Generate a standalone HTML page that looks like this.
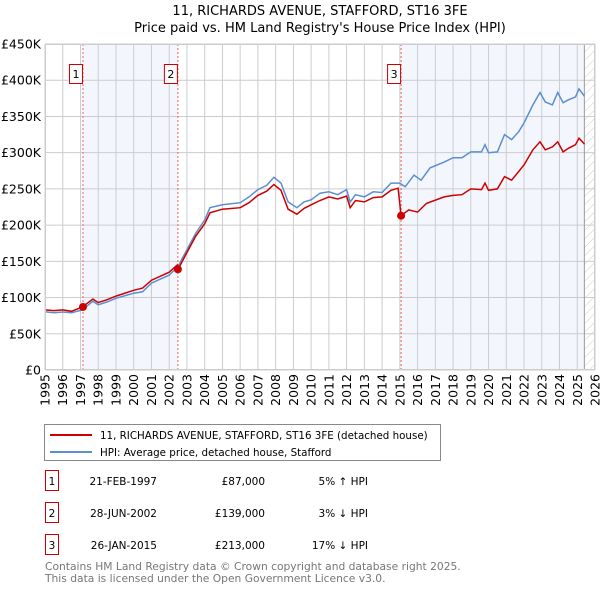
<!DOCTYPE html>
<html><head><meta charset="utf-8"><style>
body{margin:0;background:#fff;}
svg{display:block;font-family:"DejaVu Sans","Liberation Sans",sans-serif;}
</style></head><body>
<svg id="chart" width="600" height="590" viewBox="0 0 600 590">
<defs><pattern id="hatch" width="6" height="6" patternUnits="userSpaceOnUse" patternTransform="rotate(45)"><line x1="0" y1="0" x2="0" y2="6" stroke="#ccc" stroke-width="1"/></pattern></defs>
<text x="320" y="15" text-anchor="middle" font-size="13">11, RICHARDS AVENUE, STAFFORD, ST16 3FE</text>
<text x="320" y="32" text-anchor="middle" font-size="13">Price paid vs. HM Land Registry's House Price Index (HPI)</text>
<g id="plot"></g>
<g>
<rect x="44.5" y="424.5" width="396" height="36" fill="#fff" stroke="#888"/>
<line x1="50" y1="435" x2="92" y2="435" stroke="#cc0000" stroke-width="2"/>
<text x="100" y="439" font-size="10.3">11, RICHARDS AVENUE, STAFFORD, ST16 3FE (detached house)</text>
<line x1="50" y1="452" x2="92" y2="452" stroke="#5b8fd0" stroke-width="2"/>
<text x="100" y="456" font-size="10.3">HPI: Average price, detached house, Stafford</text>
</g>
<g id="table" font-size="10.5"></g>
<text x="45" y="570" font-size="10.7" fill="#777">Contains HM Land Registry data © Crown copyright and database right 2025.</text>
<text x="45" y="582" font-size="10.7" fill="#777">This data is licensed under the Open Government Licence v3.0.</text>
</svg>
<script>
const yTicks=[0,50000,100000,150000,200000,250000,300000,350000,400000,450000];
const yTickLabels=["£0","£50K","£100K","£150K","£200K","£250K","£300K","£350K","£400K","£450K"];
const years=[1995,1996,1997,1998,1999,2000,2001,2002,2003,2004,2005,2006,2007,2008,2009,2010,2011,2012,2013,2014,2015,2016,2017,2018,2019,2020,2021,2022,2023,2024,2025,2026];
const hpiT=[1995,1995.5,1996,1996.5,1997.1,1997.7,1998,1998.5,1999,2000,2000.5,2001,2002,2002.5,2003,2003.5,2004,2004.3,2005,2006,2006.5,2007,2007.5,2007.9,2008.3,2008.7,2009.2,2009.6,2010,2010.5,2011,2011.5,2012,2012.2,2012.5,2013,2013.5,2014,2014.5,2015,2015.3,2015.8,2016.2,2016.7,2017.5,2018,2018.5,2019,2019.6,2019.8,2020,2020.5,2020.9,2021.3,2021.7,2022,2022.5,2022.9,2023.2,2023.6,2023.9,2024.2,2024.5,2024.9,2025.1,2025.4];
const hpiV=[80500,79000,80000,79000,83000,95000,90000,94000,99000,106000,108000,120000,131000,143000,166000,189000,207000,224000,228000,231000,239000,249000,255000,266000,258000,232000,224000,232000,235000,244000,246000,242000,249000,232000,242000,239000,246000,245000,258000,258000,253000,269000,262000,279000,287000,293000,293000,301000,301000,311000,300000,301000,325000,318000,329000,341000,366000,383000,370000,366000,383000,369000,373000,377000,388000,378000];
const ppT=[1995,1995.5,1996,1996.5,1997.1,1997.7,1998,1998.5,1999,2000,2000.5,2001,2002,2002.45,2002.5,2003,2003.5,2004,2004.3,2005,2006,2006.5,2007,2007.5,2007.9,2008.3,2008.7,2009.2,2009.6,2010,2010.5,2011,2011.5,2012,2012.2,2012.5,2013,2013.5,2014,2014.5,2014.9,2015.07,2015.5,2016,2016.5,2017.5,2018,2018.5,2019,2019.6,2019.8,2020,2020.5,2020.9,2021.3,2021.7,2022,2022.5,2022.9,2023.2,2023.6,2023.9,2024.2,2024.5,2024.9,2025.1,2025.4];
const ppV=[83000,82000,83000,81000,87000,98000,93000,97000,102000,110000,113000,124000,135000,145000,139000,162000,185000,202000,217000,222000,224000,231000,241000,247000,256000,248000,222000,215000,223000,228000,234000,239000,236000,240000,224000,234000,232000,238000,239000,248000,251000,213000,221000,218000,230000,239000,241000,242000,250000,249000,258000,248000,250000,267000,262000,274000,283000,304000,315000,304000,308000,315000,301000,306000,311000,320000,312000];
const saleT=[1997.14,2002.49,2015.07];
const saleV=[87000,139000,213000];
const saleLabels=["1","2","3"];
const saleDates=["21-FEB-1997","28-JUN-2002","26-JAN-2015"];
const salePrices=["£87,000","£139,000","£213,000"];
const saleHpi=["5% ↑ HPI","3% ↓ HPI","17% ↓ HPI"];

const NS="http://www.w3.org/2000/svg";
const L=45,R=595,T=44,B=370,X0=1995,X1=2026,YMAX=450000;
const xs=v=>L+(v-X0)/(X1-X0)*(R-L);
const ys=v=>B-v/YMAX*(B-T);
function mk(tag,attrs,parent,text){const e=document.createElementNS(NS,tag);for(const k in attrs)e.setAttribute(k,attrs[k]);if(text!==undefined)e.textContent=text;parent.appendChild(e);return e;}
const g=document.getElementById('plot');
const s1=mk('rect',{x:xs(saleT[0]),y:T,width:xs(saleT[1])-xs(saleT[0]),height:B-T,fill:'#eef3fc',opacity:0.7},g);


const lastT=hpiT[hpiT.length-1];
const s2=mk('rect',{x:xs(saleT[2]),y:T,width:xs(lastT)-xs(saleT[2]),height:B-T,fill:'#eef3fc',opacity:0.7},g);


const hz=mk('rect',{x:xs(lastT),y:T,width:R-xs(lastT),height:B-T,fill:'url(#hatch)'},g);


years.forEach(y=>{const l=mk('line',{x1:xs(y),x2:xs(y),y1:T,y2:B,stroke:'#ccc'},g);


const t=mk('text',{x:0,y:0,'font-size':12.5,'text-anchor':'end',transform:`translate(${xs(y)+4.5},${B+4}) rotate(-90)`},g,String(y));

});
yTicks.forEach((v,i)=>{const l=mk('line',{x1:L,x2:R,y1:ys(v),y2:ys(v),stroke:'#ccc'},g);


const t=mk('text',{x:L-4,y:ys(v)+4.5,'font-size':12.5,'text-anchor':'end'},g,yTickLabels[i]);

});
mk('line',{x1:xs(lastT),x2:xs(lastT),y1:T,y2:B,stroke:'#999'},g);
saleT.forEach((t,i)=>{const l=mk('line',{x1:xs(t),x2:xs(t),y1:T,y2:B,stroke:'#f06060','stroke-dasharray':'2,2'},g);

});
const path=(T_,V_)=>T_.map((t,i)=>(i?'L':'M')+xs(t).toFixed(1)+','+ys(V_[i]).toFixed(1)).join('');
const hl=mk('path',{d:path(hpiT,hpiV),fill:'none',stroke:'#5b8fd0','stroke-width':1.5},g);


const pl=mk('path',{d:path(ppT,ppV),fill:'none',stroke:'#cc0000','stroke-width':1.5},g);


saleT.forEach((t,i)=>{const c=mk('circle',{cx:xs(t),cy:ys(saleV[i]),r:4,fill:'#cc0000'},g);


const bx=mk('rect',{x:xs(t)-13.5,y:64.5,width:13,height:19,fill:'#fff',stroke:'#cc0000'},g);


const tx=mk('text',{x:xs(t)-7,y:78,'font-size':11,'text-anchor':'middle'},g,saleLabels[i]);

});
mk('rect',{x:L+0.5,y:T+0.5,width:R-L-1,height:B-T-1,fill:'none',stroke:'#ccc'},g);
const tb=document.getElementById('table');
[482,514,546].forEach((y,i)=>{
const b=mk('rect',{x:45.5,y:y-11.5,width:13,height:20,fill:'#fff',stroke:'#cc0000'},tb);


const a=mk('text',{x:52,y:y+3,'text-anchor':'middle'},tb,saleLabels[i]);


const d=mk('text',{x:157,y:y+3,'text-anchor':'end'},tb,saleDates[i]);


const p=mk('text',{x:265,y:y+3,'text-anchor':'end'},tb,salePrices[i]);


const h=mk('text',{x:368,y:y+3,'text-anchor':'end'},tb,saleHpi[i]);

});
</script>
</body></html>
